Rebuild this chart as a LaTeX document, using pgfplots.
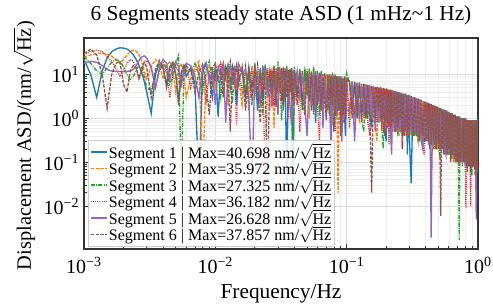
\documentclass[border=0pt]{standalone}
\usepackage{pgfplots}
\pgfplotsset{compat=1.18}
\usepackage{pgfplotstable}
\usepackage{fontspec}
\setmainfont{Liberation Serif}
\definecolor{c1}{HTML}{1F77B4}
\definecolor{c2}{HTML}{FF7F0E}
\definecolor{c3}{HTML}{2CA02C}
\definecolor{c4}{HTML}{D62728}
\definecolor{c5}{HTML}{9467BD}
\definecolor{c6}{HTML}{8C564B}

\pgfplotstableread{
f s1 s2 s3 s4 s5 s6
0.001 22 25 26 28 18 30
0.001125 10 28 18 34 20 37.9
0.00125 3.0 30 12 36.2 19 28
0.001375 12 31 10 33 16 10
0.0015 24 29 14 26 13 1.7
0.001625 33 26 19 20 12 10
0.00175 38 22 22 14 11.7 18
0.001875 40.7 18 20 9 11.7 20
0.002 40 22 15 12 11.7 6
0.002125 38 28 10 18 11.8 4
0.00225 34 33 7.7 22 12 12
0.002375 28 36 9 20 13 16
0.0025 22 34 13 14 16 14
0.002625 16 28 16 8 21 8
0.00275 11 20 14 12 25 14
0.002875 7 12 9 18 26.6 19
0.003 4 8 5 21 24 15
0.00325 1.3 15 4.3 14 15 3
0.0035 10 22 11 5 5 13
0.00375 18 18 17 12 14 21
0.004 14 8 19 17 22 15
0.00425 6 16 14 11 18 5
0.0045 15 20 6 3 8 12
0.00475 19 12 10 10 14 18
0.005 10 4 17 15 20 10
0.00525 2.5 14 27.3 12 15 2
0.0055 11 18 0.04 5 6 10
0.00575 16 10 8 13 12 17
0.006 9 3 16 16 18 12
0.0065 14 8 12 5 16 13
0.007 6 15 18 12 9 4
0.0075 0.03 20 10 16 3 11
0.008 12 0.035 4 9 14 17
0.0085 17 10 13 2.5 19 6
0.009 9 16 20 11 7 1.2
0.0095 3 12 6 15 12 14
0.01 15 5 14 7 2 18
0.0105 1.1 14 9 13 15 8
0.011 13 19 3 18 10 12
0.0115 18 7 15 4 17 3
0.012 8 13 11 14 0.8 15
0.0125 14 2 17 9 11 10
0.013 5 15 8 19 16 0.5
0.0135 16 11 2.2 6 7 13
0.014 11 6 16 12 13 9
0.0145 2 17 12 0.7 5 16
0.015 13 9 7 14 18 6
0.016 12 2 14 4 11 15
0.017 3 13 5 15 13 1.5
0.018 15 4 11 1.5 2.5 12
0.019 5 16 2 13 0.026 3
0.02 13 6 18 3 14 14
0.021 1.5 12 4 16 9 5
0.022 14 3 13 6 2 0.8
0.023 2.5 15 1.2 11 15 13
0.024 16 5 17 0.03 12 4
0.025 6 13 3 14 3 0.034
0.026 11 1.5 12 5 13 12
0.027 3 14 5 12 1.8 3.5
0.028 15 0.6 16 2 14 15
0.029 1.8 12 2.5 14 5 2
0.03 12 4 20 4 1.2 13
0.031 4 15 6 13 13 5
0.032 14 3 0.9 2.5 11 14
0.033 2 11 14 15 3 1.5
0.034 13 5 4 4 14 12
0.035 0.03 14 16 12 5 3
0.036 12 2 3 1 12 13
0.037 4 13 13 13 2 4
0.038 14 3.5 5 3 0.7 14
0.039 0.029 12 0.03 11 13 2.5
0.04 12 4 15 2 4 12
0.042 3 12 4 11 12 2
0.044 13 2.5 13 0.5 3 11
0.046 2 12 1.5 12 11 3
0.048 12 3 15 2 2 1.2
0.05 4 11 3 13 0.4 12
0.052 11 1 14 3 10 2.5
0.054 1.5 12 2 11 2 11
0.056 12 2 16 1.2 11 1.5
0.058 0.8 11 3 10 1.5 12
0.06 10 2.5 12 2 10 2
0.062 3 10 1.2 0.3 2.5 11
0.064 11 1.5 12 10 10 1.5
0.066 2 10 2.5 1.5 0.6 10
0.068 10 3 11 10 9 2.5
0.07 1.2 10 2 2 1.5 0.9
0.072 10 1.5 1.5 9 9 9
0.074 2.5 10 10 1.2 2 1.2
0.076 9 2 1 9 0.25 10
0.078 1.5 0.7 11 2 9 2
0.08 0.5 9 1.5 10 1.5 9
0.082 9 1.2 10 0.5 8 1.2
0.084 1.2 9 1 9 1.2 9
0.086 9 0.02 9 1.5 2 1.5
0.088 2 8 1.5 9 9 8
0.09 9 1 9 1 1 0.4
0.092 1 9 0.8 8 0.3 8
0.094 8 1.5 8 0.8 8 1.2
0.096 1.5 8 1.2 9 1 8
0.098 0.4 1.2 8 1.2 8 1
0.1 8 8 11 8 1.5 8
0.105 7 1.2 6.5 0.6 1.5 7
0.11 1.5 7 1.5 6.5 7 1
0.115 6.8 1 6.8 1.2 0.3 6.5
0.12 1 6.5 1.2 6 6.5 1.5
0.125 6.5 0.8 6 1 1 6.5
0.13 1.2 6.2 1 6 6 0.8
0.135 6 1 0.5 1.2 1.2 6.2
0.14 1 6 5.8 5.5 5.8 1
0.145 5.8 1.2 1 0.8 1.5 5.8
0.15 1.2 5.6 5.5 0.4 5.8 1.2
0.155 0.7 1 1 5.5 1 0.02
0.16 5.5 5.4 5.2 1 5.2 5.4
0.165 1 0.8 0.8 5.2 0.5 1
0.17 5.2 0.3 5 0.8 5 5.2
0.175 0.8 5 1.2 5 0.8 1.5
0.18 5 0.8 5.2 1 5 5
0.185 1.2 5 0.6 4.8 0.8 0.6
0.19 4.8 1 0.2 0.5 4.8 5
0.195 0.6 4.8 4.6 4.6 1 0.4
0.2 0.3 0.7 0.8 0.8 4.6 4.8
0.205 4.6 4.5 4.6 4.6 0.6 0.7
0.21 0.8 0.9 0.5 0.25 4.4 4.5
0.215 4.5 0.5 4.4 4.5 0.7 0.6
0.22 0.6 4.4 0.7 0.6 0.15 4.3
0.225 4.3 0.7 1.2 4.3 4.2 0.8
0.23 1 4.2 4.1 0.5 0.6 4.2
0.235 4.1 0.5 0.6 1.5 4.1 0.5
0.24 0.5 4 4 4 0.5 4.1
0.245 4 0.6 0.4 0.6 1 0.6
0.25 0.8 0.4 3.9 3.8 3.9 3.9
0.255 0.6 3.8 0.5 0.5 0.5 0.9
0.26 3.8 0.7 0.5 3.7 3.8 3.7
0.265 0.4 3.6 3.7 0.2 0.6 0.5
0.27 3.6 0.5 0.4 3.6 3.6 3.5
0.275 0.5 1.6 3.5 0.5 0.4 0.4
0.28 3.5 3.5 0.5 3.5 3.4 0.6
0.285 3.3 0.4 1.1 0.4 0.5 3.4
0.29 0.15 3.4 3.4 2.4 3.3 0.5
0.295 3.4 0.5 0.4 0.4 0.4 3.3
0.3 0.4 3.3 3.3 1.2 3.3 0.4
0.31 0.033 3.1 0.4 3.1 0.5 3.2
0.32 3.1 0.4 3 0.4 3.1 0.4
0.33 0.4 3 0.4 3 0.5 3
0.34 2.9 0.5 2.9 0.6 2.9 0.4
0.35 0.5 0.3 0.3 2.8 0.4 2.8
0.36 2.7 2.7 2.7 0.4 2.7 0.3
0.37 0.4 0.4 1 2.6 0.3 2.6
0.38 2.5 2.5 0.3 0.3 0.2 0.4
0.39 0.3 0.35 2.4 0.15 2.4 2.4
0.4 2.4 2.3 0.3 2.3 0.3 0.3
0.41 0.35 0.3 2.3 0.3 2.3 2.2
0.42 2.2 2.2 0.25 2.2 0.25 0.3
0.43 0.2 0.3 2.1 0.4 2.2 2.1
0.44 2.1 2 0.3 2.1 0.0019 0.25
0.45 0.3 0.15 2 0.3 2 2
0.46 2 2 0.2 2 0.3 0.3
0.47 0.25 0.3 1.9 0.2 1.9 1.9
0.48 1.9 1.9 0.25 0.25 0.2 0.2
0.49 0.2 0.2 1.8 1.9 1.8 1.8
0.5 1.8 1.8 0.2 0.2 0.3 0.25
0.51 0.25 0.25 0.15 1.7 1.7 1.7
0.52 1.7 1.7 1.7 0.2 0.2 0.006
0.53 0.2 0.2 0.2 1.6 1.6 1.6
0.54 1.6 0.25 1.6 0.2 0.2 0.2
0.55 0.15 1.6 0.2 1.5 1.6 1.5
0.56 1.5 0.2 1.5 0.15 0.2 0.2
0.57 0.2 1.5 0.15 1.5 0.15 1.5
0.58 1.5 0.15 1.4 0.15 1.4 0.15
0.59 0.15 1.4 0.2 1.4 0.2 1.4
0.6 1.4 0.2 0.15 0.2 1.4 0.2
0.61 0.15 1.3 1.3 1.3 0.15 1.3
0.62 1.3 0.15 0.2 0.15 1.3 0.1
0.63 0.2 1.3 0.12 1.3 0.15 1.3
0.64 1.3 0.2 1.2 0.2 1.2 0.15
0.65 0.12 0.1 0.15 1.2 0.15 1.2
0.66 1.2 1.2 1.2 0.15 1.2 0.12
0.67 0.15 0.15 0.12 1.2 0.1 1.2
0.68 0.1 1.1 1.1 0.12 1.1 0.1
0.69 1.1 0.12 0.1 1.1 0.12 1.1
0.7 0.12 1.1 1.1 0.1 1.1 0.12
0.71 1.1 0.1 0.12 1.1 0.1 1.1
0.72 0.1 1.1 0.0017 0.12 1.1 0.1
0.73 1.1 0.15 1 1 0.12 1
0.74 0.12 1 0.1 0.1 1 0.12
0.75 1 0.1 1 1 0.1 0.25
0.76 0.1 1 0.12 0.08 1 1
0.77 1 0.12 1 1 0.1 0.1
0.78 0.12 1 0.1 0.12 1 1
0.79 1 0.1 0.2 1 0.12 0.1
0.8 0.1 1 1 0.1 0.08 1
0.81 1 0.1 0.1 0.009 0.9 0.1
0.82 0.08 0.9 0.9 0.9 0.1 0.9
0.83 0.9 0.1 0.1 0.1 0.9 0.06
0.84 0.1 0.15 0.9 0.9 0.1 0.9
0.85 0.9 0.9 0.1 0.1 0.9 0.08
0.86 0.08 0.08 0.9 0.9 0.08 0.9
0.87 0.9 0.9 0.08 0.08 0.9 0.08
0.88 0.06 0.08 0.9 0.01 0.08 0.9
0.89 0.9 0.9 0.08 0.9 0.9 0.08
0.9 0.08 0.08 0.05 0.08 0.08 0.9
0.91 0.9 0.9 0.9 0.9 0.9 0.08
0.92 0.08 0.08 0.08 0.08 0.1 0.9
0.93 0.9 0.9 0.9 0.9 0.9 0.08
0.94 0.07 0.08 0.08 0.08 0.08 0.9
0.95 0.9 0.9 0.9 0.07 0.9 0.05
0.96 0.08 0.07 0.07 0.9 0.07 0.9
0.97 0.9 0.9 0.9 0.08 0.005 0.07
0.98 0.07 0.07 0.07 0.08 0.9 0.9
0.99 0.9 0.9 0.9 0.9 0.07 0.06
1.0 0.06 0.06 0.8 0.08 0.8 0.8
}\asd

\begin{document}
\begin{tikzpicture}
\begin{axis}[
  at={(0,0)}, anchor=south west,
  scale only axis, width=295.5pt, height=158.25pt,
  xmode=log, ymode=log,
  xmin=1e-3, xmax=1, ymin=1.05e-3, ymax=68,
  xtick={1e-3,1e-2,1e-1,1},
  xticklabels={10\textsuperscript{−3},10\textsuperscript{−2},10\textsuperscript{−1},10\textsuperscript{0}},
  ytick={1e-2,1e-1,1,10},
  yticklabels={10\textsuperscript{−2},10\textsuperscript{−1},10\textsuperscript{0},10\textsuperscript{1}},
  tick align=inside, tick pos=left,
  major tick length=4pt, minor tick length=2pt,
  grid=both,
  major grid style={gray!28, line width=0.5pt},
  minor grid style={gray!14, line width=0.4pt},
  axis line style={black!80, line width=0.8pt},
  every tick/.style={black!80, line width=0.6pt},
  ticklabel style={font=\fontsize{15}{18}\selectfont},
  xticklabel style={anchor=base, yshift=-18pt},
  label style={font=\fontsize{16}{19}\selectfont},
  xlabel={Frequency/Hz},
  xlabel style={at={(axis description cs:0.5,0)}, anchor=base, yshift=-36.75pt},
  ylabel={Displacement ASD/(nm/$\sqrt{\mbox{Hz}}$)},
  ylabel style={font=\fontsize{15.3}{18}\selectfont, inner sep=0pt, at={(axis description cs:-0.152,0.49)}, anchor=center},
  title={6 Segments steady state ASD (1 mHz\textasciitilde 1 Hz)},
  title style={font=\fontsize{16}{19}\selectfont, at={(axis description cs:0.5,1)}, anchor=base, yshift=7.3pt},
  legend style={at={(0.01,0.012)}, anchor=south west,
    font=\fontsize{12}{13}\selectfont,
    draw=gray!40, fill=white, fill opacity=0.85, text opacity=1,
    row sep=-2pt, inner sep=1.5pt, nodes={inner sep=1pt}},
  legend cell align=left,
  legend image code/.code={\draw[#1] (0pt,0pt) -- (12pt,0pt);},
  every axis plot/.append style={line width=1pt},
]
\addplot[c1] table[x=f,y=s1]{\asd};
\addlegendentry{Segment 1 | Max=40.698 nm/$\sqrt{\mbox{Hz}}$}
\addplot[c2, dash pattern=on 2.5pt off 1pt] table[x=f,y=s2]{\asd};
\addlegendentry{Segment 2 | Max=35.972 nm/$\sqrt{\mbox{Hz}}$}
\addplot[c3, dash pattern=on 3pt off 1pt on 0.7pt off 1pt] table[x=f,y=s3]{\asd};
\addlegendentry{Segment 3 | Max=27.325 nm/$\sqrt{\mbox{Hz}}$}
\addplot[c4, dash pattern=on 0.7pt off 0.9pt] table[x=f,y=s4]{\asd};
\addlegendentry{Segment 4 | Max=36.182 nm/$\sqrt{\mbox{Hz}}$}
\addplot[c5] table[x=f,y=s5]{\asd};
\addlegendentry{Segment 5 | Max=26.628 nm/$\sqrt{\mbox{Hz}}$}
\addplot[c6, dash pattern=on 2.5pt off 1pt] table[x=f,y=s6]{\asd};
\addlegendentry{Segment 6 | Max=37.857 nm/$\sqrt{\mbox{Hz}}$}
\end{axis}
\pgfresetboundingbox
\useasboundingbox (-63pt,-41.25pt) rectangle (306.75pt,186.75pt);
\end{tikzpicture}
\end{document}
